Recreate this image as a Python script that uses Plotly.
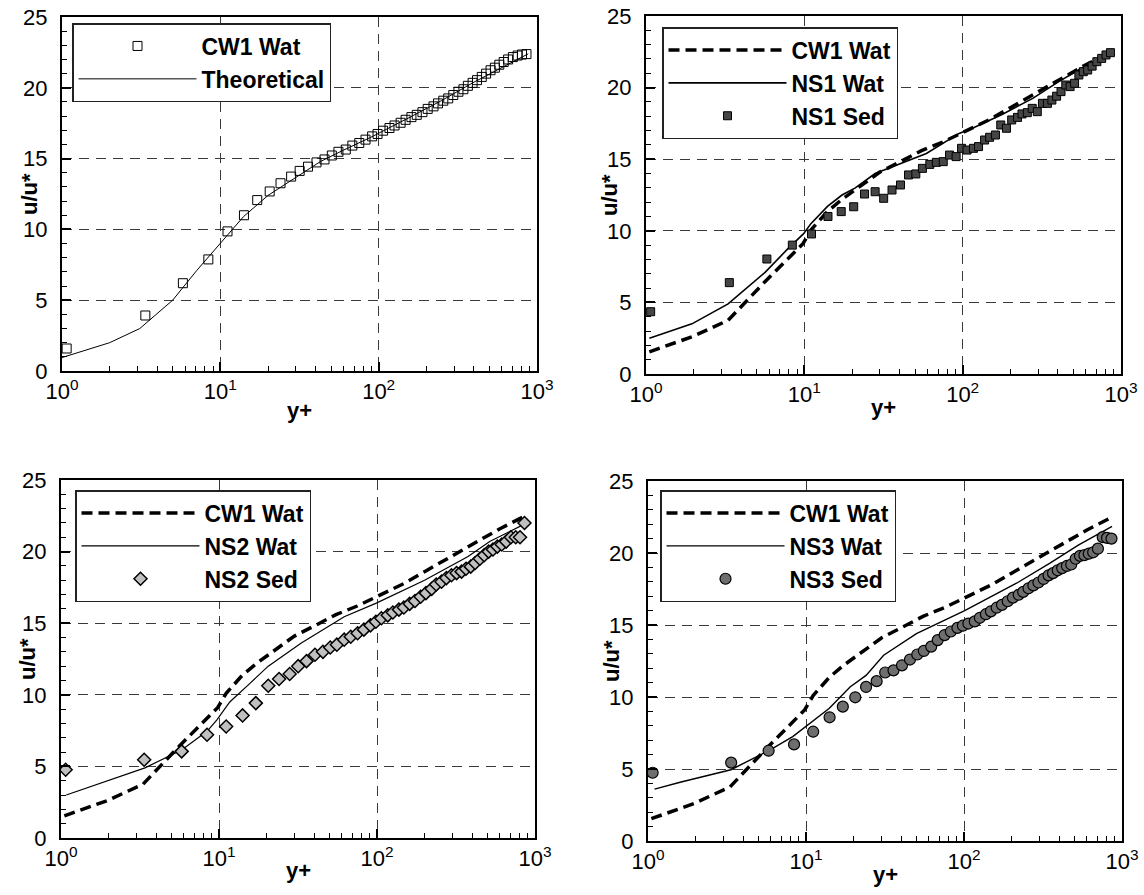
import plotly.graph_objects as go

# ---------------- data ----------------
yplus = [1.07, 3.36, 5.8, 8.4, 11.1, 14.1, 17.1, 20.5, 24, 28, 31.7, 35.8, 40.5, 45.5,
         50.6, 55.7, 62, 68.2, 75.4, 82.6, 90.9, 98.4, 106.6, 117, 126, 137.6, 148, 161,
         174, 189, 204, 222, 237, 256, 275, 296, 319, 343, 366, 392, 418, 448, 477, 509,
         542, 578, 616, 657, 704, 755, 804, 858]

cw1_wat = [1.59, 3.92, 6.2, 7.88, 9.86, 11.0, 12.07, 12.68, 13.26, 13.73, 14.13, 14.43,
           14.73, 14.94, 15.22, 15.48, 15.64, 15.92, 16.1, 16.34, 16.57, 16.74, 16.97,
           17.16, 17.34, 17.53, 17.74, 17.93, 18.09, 18.28, 18.51, 18.69, 18.9, 19.09,
           19.25, 19.49, 19.72, 19.9, 20.14, 20.35, 20.54, 20.77, 21.0, 21.24, 21.42,
           21.63, 21.82, 22.0, 22.17, 22.28, 22.35, 22.38]

theo_yplus = [1, 2, 3.1, 5, 7.1, 10, 14, 20, 30, 43, 60, 89, 150, 250, 400, 600, 880]
theo_u = [0.95, 2.0, 3.0, 5.0, 7.1, 9.0, 10.9, 12.4, 13.7, 14.8, 15.6, 16.5, 17.8, 19.1,
          20.4, 21.4, 22.4]

cw1_line_yplus = [1.05, 1.95, 3.3, 4.3, 5.7, 7.8, 9.8, 11.1, 14, 17.3, 24, 30, 40, 55,
                  75, 100, 150, 200, 300, 400, 600, 870]
cw1_line_u = [1.55, 2.6, 3.75, 5.1, 6.5, 8.0, 9.1, 10.1, 11.35, 12.2, 13.3, 14.1, 14.8,
              15.6, 16.2, 16.85, 17.8, 18.6, 19.7, 20.5, 21.6, 22.5]

ns1_wat_yplus = [1.05, 1.95, 3.3, 5.65, 7.8, 9.9, 11, 14, 17.3, 21, 28, 34.6, 45, 59,
                 95, 117, 176, 277, 402, 553, 850]
ns1_wat_u = [2.5, 3.5, 4.9, 7.1, 8.7, 9.8, 10.5, 11.7, 12.5, 13.0, 14.0, 14.4, 14.9,
             15.4, 16.8, 17.2, 18.1, 19.25, 20.4, 21.3, 22.4]
ns1_sed = [4.35, 6.38, 8.03, 9.0, 9.78, 11.0, 11.34, 11.68, 12.57, 12.73, 12.27, 12.85,
           13.2, 13.9, 13.97, 14.36, 14.64, 14.78, 14.83, 15.29, 15.18, 15.76, 15.64,
           15.76, 15.88, 16.34, 16.53, 16.69, 17.39, 17.16, 17.74, 17.92, 18.16, 18.25,
           18.55, 18.32, 18.9, 18.9, 19.13, 19.4, 19.72, 20.18, 20.07, 20.3, 20.88,
           21.11, 21.23, 21.5, 21.81, 22.04, 22.28, 22.44]

ns2_wat_yplus = [1.08, 2, 3.4, 5.8, 8.4, 9.7, 11.7, 15.7, 20.5, 33, 62, 99, 200, 377,
                 517, 850]
ns2_wat_u = [3.0, 4.0, 4.9, 6.15, 7.45, 8.25, 9.5, 10.8, 12.0, 13.6, 15.45, 16.4, 18.0,
             19.65, 20.7, 21.9]
ns2_sed = [4.77, 5.46, 6.05, 7.21, 7.79, 8.56, 9.42, 10.63, 11.1, 11.45, 12.0, 12.35,
           12.8, 13.0, 13.3, 13.5, 13.85, 14.05, 14.3, 14.55, 14.85, 15.1, 15.35, 15.55,
           15.75, 15.95, 16.1, 16.35, 16.55, 16.85, 17.1, 17.4, 17.7, 17.9, 18.15, 18.35,
           18.5, 18.6, 18.8, 18.95, 19.2, 19.5, 19.75, 20.0, 20.15, 20.35, 20.5, 20.7,
           21.0, 21.0, 21.0, 22.0]

ns3_wat_yplus = [1.1, 1.62, 3.35, 5.86, 8.24, 10, 14, 19, 24, 31, 50, 101, 215, 350,
                 529, 865]
ns3_wat_u = [3.6, 4.1, 4.95, 6.3, 7.25, 7.95, 9.2, 10.7, 11.5, 12.9, 14.4, 16.0, 17.9,
             19.3, 20.55, 21.85]
ns3_sed = [4.74, 5.44, 6.27, 6.71, 7.59, 8.59, 9.33, 9.98, 10.7, 11.1, 11.7, 11.85,
           12.2, 12.6, 12.95, 13.2, 13.5, 13.95, 14.3, 14.55, 14.8, 14.95, 15.1, 15.25,
           15.5, 15.75, 15.95, 16.2, 16.4, 16.65, 16.9, 17.1, 17.3, 17.55, 17.75, 17.95,
           18.2, 18.45, 18.6, 18.8, 18.95, 19.1, 19.2, 19.6, 19.8, 19.85, 19.95, 20.05,
           20.3, 21.1, 21.05, 21.0]

x_tick_vals = [1, 10, 100, 1000]
x_tick_text = ["10<sup>0</sup>", "10<sup>1</sup>", "10<sup>2</sup>", "10<sup>3</sup>"]
y_tick_vals = [0, 5, 10, 15, 20, 25]
x_title = "y+"
y_title = "u/u*"

# ---------------- layout geometry (pixels) ----------------
W, H = 1144, 895
FONT = "Liberation Sans, Arial, Helvetica, sans-serif"
panels = [  # left, right, top, bottom in px
    (62, 537, 17, 371),
    (646, 1121, 16, 374),
    (61, 535, 480, 838),
    (648, 1122, 481, 841),
]
legend_pos = [(72, 23), (662, 27), (75, 490), (660, 490)]
ytitle_x = [29, 610, 27, 611]
xtitle_y = [410, 408, 870, 874]

fig = go.Figure()

minor_x = [m * d for d in (1, 10, 100) for m in range(2, 10)]

legend_names = ["legend", "legend2", "legend3", "legend4"]


def add_line(i, x, y, name, dash=None, width=1.2, rank=1):
    fig.add_trace(go.Scatter(
        x=x, y=y, mode="lines", name=name,
        line=dict(color="black", width=width, dash=dash),
        xaxis="x" if i == 0 else f"x{i+1}", yaxis="y" if i == 0 else f"y{i+1}",
        legend=legend_names[i], legendrank=rank))


def add_markers(i, x, y, name, symbol, size, fill, rank=1, lw=1):
    fig.add_trace(go.Scatter(
        x=x, y=y, mode="markers", name=name,
        marker=dict(symbol=symbol, size=size, color=fill,
                    line=dict(color="black", width=lw)),
        xaxis="x" if i == 0 else f"x{i+1}", yaxis="y" if i == 0 else f"y{i+1}",
        legend=legend_names[i], legendrank=rank))


DASH = "11px,6px"
# panel 1
add_line(0, theo_yplus, theo_u, "Theoretical", width=1.0, rank=2)
add_markers(0, yplus, cw1_wat, "CW1 Wat", "square-open", 9, "black", rank=1, lw=1)
# panel 2
add_line(1, cw1_line_yplus, cw1_line_u, "CW1 Wat", dash=DASH, width=3.5, rank=1)
add_line(1, ns1_wat_yplus, ns1_wat_u, "NS1 Wat", width=1.6, rank=2)
add_markers(1, yplus, ns1_sed, "NS1 Sed", "square", 8, "#454545", rank=3)
# panel 3
add_line(2, cw1_line_yplus, cw1_line_u, "CW1 Wat", dash=DASH, width=3.5, rank=1)
add_line(2, ns2_wat_yplus, ns2_wat_u, "NS2 Wat", width=1.2, rank=2)
add_markers(2, yplus, ns2_sed, "NS2 Sed", "diamond", 10, "#c0c0c0", rank=3, lw=1.5)
# panel 4
add_line(3, cw1_line_yplus, cw1_line_u, "CW1 Wat", dash=DASH, width=3.5, rank=1)
add_line(3, ns3_wat_yplus, ns3_wat_u, "NS3 Wat", width=1.4, rank=2)
add_markers(3, yplus, ns3_sed, "NS3 Sed", "circle", 11, "#6e6e6e", rank=3, lw=1.2)

layout = dict(
    width=W, height=H,
    margin=dict(l=0, r=0, t=0, b=0, autoexpand=False),
    paper_bgcolor="white", plot_bgcolor="white",
    font=dict(family=FONT, size=21, color="black"),
    showlegend=True,
    annotations=[],
)

for i, (l, r, t, b) in enumerate(panels):
    xs = "xaxis" if i == 0 else f"xaxis{i+1}"
    ys = "yaxis" if i == 0 else f"yaxis{i+1}"
    layout[xs] = dict(
        type="log", range=[0, 3], domain=[l / W, r / W],
        anchor="y" if i == 0 else f"y{i+1}",
        tickmode="array", tickvals=x_tick_vals, ticktext=x_tick_text,
        ticks="inside", ticklen=9, tickwidth=1.5, tickcolor="black",
        minor=dict(tickmode="array", tickvals=minor_x, ticks="inside", ticklen=5,
                   tickwidth=1, tickcolor="black", showgrid=False),
        showline=True, linewidth=2, linecolor="black", mirror=True,
        showgrid=True, gridcolor="#3a3a3a", gridwidth=1, griddash="10px,7px",
        tickfont=dict(family=FONT, size=22), zeroline=False,
    )
    layout[ys] = dict(
        range=[0, 25], domain=[1 - b / H, 1 - t / H],
        anchor="x" if i == 0 else f"x{i+1}",
        tickmode="array", tickvals=y_tick_vals,
        ticks="inside", ticklen=9, tickwidth=1.5, tickcolor="black",
        minor=dict(dtick=1, ticks="inside", ticklen=5, tickwidth=1, tickcolor="black",
                   showgrid=False),
        showline=True, linewidth=2, linecolor="black", mirror=True,
        showgrid=True, gridcolor="#3a3a3a", gridwidth=1, griddash="10px,7px",
        tickfont=dict(family=FONT, size=22), zeroline=False,
        ticklabelstandoff=8,
    )
    lx, ly = legend_pos[i]
    layout[legend_names[i]] = dict(
        x=lx / W, y=1 - ly / H, xanchor="left", yanchor="top",
        bgcolor="white", bordercolor="#222222", borderwidth=1.5,
        font=dict(family=FONT, size=23, color="black", weight="bold"),
        itemwidth=118, tracegroupgap=0, traceorder="normal",
    )
    layout["annotations"].append(dict(
        text=f"<b>{y_title}</b>", textangle=-90, x=ytitle_x[i] / W,
        y=1 - ((t + b) / 2) / H, xref="paper", yref="paper", showarrow=False,
        font=dict(family=FONT, size=22), xanchor="center", yanchor="middle"))
    layout["annotations"].append(dict(
        text=f"<b>{x_title}</b>", x=((l + r) / 2) / W, y=1 - xtitle_y[i] / H,
        xref="paper", yref="paper", showarrow=False,
        font=dict(family=FONT, size=22), xanchor="center", yanchor="middle"))

fig.update_layout(**layout)
fig.write_html("out.html", config={"displayModeBar": False},
               post_script="document.body.style.margin='0';")
